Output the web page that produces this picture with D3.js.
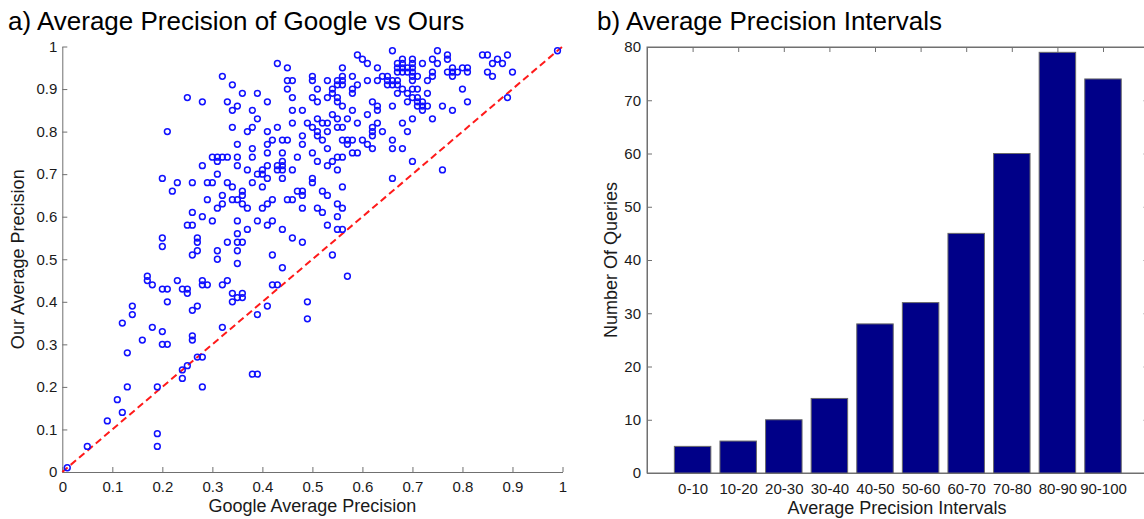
<!DOCTYPE html>
<html>
<head>
<meta charset="utf-8">
<script src="https://cdn.jsdelivr.net/npm/d3@7"></script>
<style>
  html, body { margin: 0; padding: 0; background: #fff; }
  svg { display: block; font-family: "Liberation Sans", Arial, Helvetica, sans-serif; }
</style>
</head>
<body>
<svg id="chart" width="1144" height="519"></svg>
<script>
// ---------- Data ----------
// Scatter: Google AP (x) vs Our AP (y), one entry per query
const googleAP = [
0.32,0.25,0.28,0.33,0.21,0.30,0.31,0.32,0.31,0.28,0.31,0.20,0.23,0.26,0.29,0.30,0.33,0.22,
0.43,0.45,0.59,0.60,0.61,0.66,0.56,0.63,
0.50,0.50,0.56,0.58,0.64,0.65,
0.45,0.46,0.53,0.55,0.56,0.61,0.63,0.65,0.66,
0.34,0.55,0.56,0.59,0.65,0.66,
0.45,0.51,0.54,0.58,
0.36,0.39,0.54,0.58,
0.41,0.46,0.50,0.51,0.53,0.55,0.55,0.56,0.62,0.63,0.63,0.66,
0.34,0.35,0.38,0.46,0.48,0.54,0.55,0.58,0.61,0.63,
0.39,0.51,0.57,
0.34,0.37,0.38,0.41,0.43,0.46,0.49,0.50,0.52,0.53,0.51,0.53,0.51,0.52,
0.55,0.56,0.56,0.57,0.58,0.57,0.58,0.59,
0.59,0.62,0.62,0.62,0.64,0.60,0.61,0.62,0.66,0.66,
0.35,0.38,0.41,0.42,0.44,0.45,0.48,0.48,
0.33,0.35,0.35,0.38,0.41,0.44,0.44,0.43,0.44,0.43,0.44,
0.47,0.50,0.51,0.53,0.54,0.55,0.56,0.53,0.55,
0.37,0.39,0.40,0.40,0.41,0.41,0.46,
0.34,0.36,0.38,0.40,0.44,0.50,0.50,0.66,
0.75,0.77,0.77,0.84,0.85,0.87,0.89,0.86,0.88,0.99,0.90,0.85,0.86,
0.68,0.68,0.68,0.68,0.67,0.67,0.67,
0.70,0.70,0.70,0.70,0.69,0.69,0.72,0.74,0.75,0.74,0.74,
0.77,0.78,0.78,0.78,0.79,0.80,0.81,0.81,
0.70,0.71,0.70,0.67,0.67,0.73,
0.68,0.67,0.69,0.70,0.71,0.73,
0.70,0.71,0.71,0.72,0.71,0.72,0.72,0.73,0.69,
0.80,0.81,0.76,0.78,0.74,0.70,0.68,0.69,0.68,0.70,0.76,0.89,
0.29,0.32,0.31,0.32,0.26,0.28,0.30,0.25,0.26,0.20,0.20,0.27,0.27,0.27,0.26,0.31,0.31,
0.17,0.17,0.18,0.20,0.21,0.23,0.24,0.25,0.25,0.28,0.28,0.29,0.32,0.33,0.21,0.14,0.14,0.12,
0.26,0.27,0.18,0.20,0.32,
0.36,0.34,0.35,0.36,0.37,0.40,0.41,0.42,0.45,0.46,0.47,0.48,0.48,0.48,0.52,0.53,0.56,
0.51,0.52,0.55,0.56,0.55,0.53,0.55,0.56,0.35,0.39,0.41,0.42,0.37,0.44,0.35,0.46,0.48,
0.33,0.35,0.36,0.35,0.35,0.42,0.44,0.54,0.57,0.42,0.43,0.34,0.35,0.36,0.36,0.34,
0.41,0.39,0.49,0.49,
0.16,0.20,0.21,0.26,0.26,0.13,0.24,0.25,0.24,0.27,0.28,0.13,0.19,0.28,0.11,0.12,0.09,
0.19,0.19,0.05,0.01,0.38,0.39
];
const ourAP = [
0.93,0.88,0.87,0.87,0.80,0.74,0.74,0.74,0.73,0.72,0.70,0.69,0.68,0.68,0.68,0.68,0.68,0.66,
0.96,0.95,0.98,0.97,0.96,0.99,0.95,0.95,
0.93,0.92,0.93,0.93,0.93,0.93,
0.92,0.92,0.92,0.92,0.92,0.92,0.92,0.92,0.92,
0.91,0.91,0.91,0.91,0.91,0.91,
0.90,0.90,0.90,0.90,
0.89,0.89,0.89,0.89,
0.87,0.88,0.88,0.87,0.88,0.88,0.87,0.86,0.87,0.86,0.85,0.86,
0.85,0.86,0.85,0.85,0.85,0.84,0.83,0.85,0.84,0.82,
0.83,0.83,0.83,
0.81,0.80,0.81,0.80,0.81,0.82,0.82,0.81,0.82,0.82,0.80,0.80,0.79,0.78,
0.81,0.81,0.78,0.78,0.78,0.77,0.75,0.75,
0.82,0.81,0.80,0.79,0.80,0.78,0.77,0.76,0.78,0.76,
0.77,0.76,0.77,0.78,0.78,0.78,0.79,0.77,
0.74,0.74,0.72,0.74,0.75,0.75,0.73,0.72,0.72,0.71,0.71,
0.74,0.75,0.73,0.76,0.73,0.74,0.74,0.72,0.71,
0.71,0.70,0.71,0.70,0.72,0.69,0.71,
0.67,0.66,0.68,0.67,0.69,0.69,0.68,0.69,
0.99,0.98,0.97,0.98,0.98,0.97,0.98,0.96,0.96,0.99,0.94,0.94,0.93,
0.97,0.96,0.95,0.94,0.96,0.95,0.94,
0.97,0.96,0.95,0.94,0.95,0.94,0.96,0.97,0.96,0.94,0.93,
0.94,0.94,0.95,0.93,0.94,0.95,0.95,0.94,
0.93,0.93,0.92,0.92,0.91,0.92,
0.90,0.89,0.89,0.90,0.90,0.89,
0.88,0.88,0.87,0.87,0.86,0.86,0.85,0.86,0.87,
0.90,0.87,0.86,0.85,0.83,0.83,0.82,0.80,0.76,0.73,0.71,0.88,
0.64,0.65,0.62,0.63,0.61,0.60,0.59,0.58,0.58,0.55,0.53,0.55,0.54,0.52,0.51,0.52,0.50,
0.46,0.45,0.44,0.43,0.43,0.45,0.43,0.43,0.42,0.45,0.44,0.44,0.44,0.45,0.40,0.39,0.37,0.35,
0.38,0.39,0.34,0.33,0.34,
0.65,0.64,0.64,0.63,0.62,0.62,0.63,0.64,0.64,0.64,0.66,0.66,0.65,0.62,0.66,0.65,0.67,
0.62,0.61,0.63,0.62,0.60,0.58,0.57,0.57,0.59,0.59,0.58,0.59,0.57,0.57,0.56,0.55,0.54,
0.54,0.54,0.54,0.52,0.49,0.51,0.48,0.51,0.46,0.44,0.44,0.42,0.41,0.42,0.41,0.40,
0.39,0.37,0.40,0.36,
0.31,0.30,0.30,0.32,0.31,0.28,0.24,0.25,0.22,0.27,0.27,0.20,0.20,0.20,0.17,0.14,0.12,
0.09,0.06,0.06,0.01,0.23,0.23
];
const scatterTicks = [0,0.1,0.2,0.3,0.4,0.5,0.6,0.7,0.8,0.9,1];

// Bar chart
const intervals = ["0-10","10-20","20-30","30-40","40-50","50-60","60-70","70-80","80-90","90-100"];
const queryCounts = [5,6,10,14,28,32,45,60,79,74];
const barTicks = [0,10,20,30,40,50,60,70,80];

// ---------- Drawing ----------
const svg = d3.select("#chart");
const axisColor = "#707070";
const textColor = "#1a1a1a";

function styleAxis(g) {
  g.selectAll("path.domain").attr("stroke", axisColor).attr("stroke-width", 1);
  g.selectAll(".tick line").attr("stroke", axisColor).attr("stroke-width", 1);
  g.selectAll(".tick text").attr("fill", textColor)
    .style("font-family", '"Liberation Sans", Arial, sans-serif').style("font-size", "15px");
}

// ----- Panel a -----
const ax = { left: 62.3, right: 562.5, top: 46.5, bottom: 472 };
const x1 = d3.scaleLinear().domain([0, 1]).range([ax.left, ax.right]);
const y1 = d3.scaleLinear().domain([0, 1]).range([ax.bottom, ax.top]);
const fmt = d => (d === 0 ? "0" : d === 1 ? "1" : d3.format(".1f")(d));

svg.append("g").attr("transform", `translate(0,${ax.bottom})`)
  .call(d3.axisBottom(x1).tickValues(scatterTicks).tickFormat(fmt).tickSizeInner(-5).tickSizeOuter(0).tickPadding(9))
  .call(styleAxis);
svg.append("g").attr("transform", `translate(${ax.left},0)`)
  .call(d3.axisLeft(y1).tickValues(scatterTicks).tickFormat(fmt).tickSizeInner(-5).tickSizeOuter(0).tickPadding(5))
  .call(styleAxis);

// diagonal dashed line
svg.append("line")
  .attr("x1", x1(0)).attr("y1", y1(0)).attr("x2", x1(1)).attr("y2", y1(1))
  .attr("stroke", "#ff1a1a").attr("stroke-width", 2).attr("stroke-dasharray", "7,4");

const pts = googleAP.map((g, i) => ({ g, o: ourAP[i] }));
svg.append("g").selectAll("circle").data(pts).join("circle")
  .attr("cx", d => x1(d.g)).attr("cy", d => y1(d.o)).attr("r", 2.9)
  .attr("fill", "none").attr("stroke", "#1010ff").attr("stroke-width", 1.5);

svg.append("text").attr("x", 8).attr("y", 30)
  .attr("fill", "#000").style("font-size", "26px").text("a) Average Precision of Google vs Ours");
svg.append("text").attr("x", (ax.left + ax.right) / 2).attr("y", 512).attr("text-anchor", "middle")
  .attr("fill", textColor).style("font-size", "18px").text("Google Average Precision");
svg.append("text").attr("transform", `translate(24,${(ax.top + ax.bottom) / 2}) rotate(-90)`)
  .attr("text-anchor", "middle").attr("fill", textColor).style("font-size", "18px").text("Our Average Precision");

// ----- Panel b -----
const bx = { left: 647, right: 1148.6, top: 47, bottom: 473 };
const xb = d3.scaleLinear().domain([0, 11]).range([bx.left, bx.right]);
const yb = d3.scaleLinear().domain([0, 80]).range([bx.bottom, bx.top]);
const barPos = intervals.map((_, i) => i + 1);

// box
svg.append("rect").attr("x", bx.left).attr("y", bx.top)
  .attr("width", bx.right - bx.left).attr("height", bx.bottom - bx.top)
  .attr("fill", "none").attr("stroke", axisColor);

svg.append("g").attr("transform", `translate(${bx.left},0)`)
  .call(d3.axisLeft(yb).tickValues(barTicks).tickSizeInner(-5).tickSizeOuter(0).tickPadding(6))
  .call(styleAxis);
svg.append("g").attr("transform", `translate(${bx.right},0)`)
  .call(d3.axisRight(yb).tickValues(barTicks).tickFormat("").tickSizeInner(-5).tickSizeOuter(0))
  .call(styleAxis);
svg.append("g").attr("transform", `translate(0,${bx.top})`)
  .call(d3.axisTop(xb).tickValues(barPos).tickFormat("").tickSizeInner(-5).tickSizeOuter(0))
  .call(styleAxis);
svg.append("g").attr("transform", `translate(0,${bx.bottom})`)
  .call(d3.axisBottom(xb).tickValues(barPos).tickFormat(i => intervals[i - 1]).tickSizeInner(-5).tickSizeOuter(0).tickPadding(10))
  .call(styleAxis);

const bw = xb(0.8) - xb(0);
svg.append("g").selectAll("rect").data(queryCounts).join("rect")
  .attr("x", (d, i) => xb(i + 1) - bw / 2).attr("width", bw)
  .attr("y", d => yb(d)).attr("height", d => yb(0) - yb(d))
  .attr("fill", "#000088").attr("stroke", "#6a6a6a").attr("stroke-width", 1);

svg.append("text").attr("x", 597).attr("y", 30)
  .attr("fill", "#000").style("font-size", "26px").text("b) Average Precision Intervals");
svg.append("text").attr("x", 897).attr("y", 514).attr("text-anchor", "middle")
  .attr("fill", textColor).style("font-size", "18px").text("Average Precision Intervals");
svg.append("text").attr("transform", `translate(617,${(bx.top + bx.bottom) / 2}) rotate(-90)`)
  .attr("text-anchor", "middle").attr("fill", textColor).style("font-size", "18px").text("Number Of Queries");
</script>
</body>
</html>
